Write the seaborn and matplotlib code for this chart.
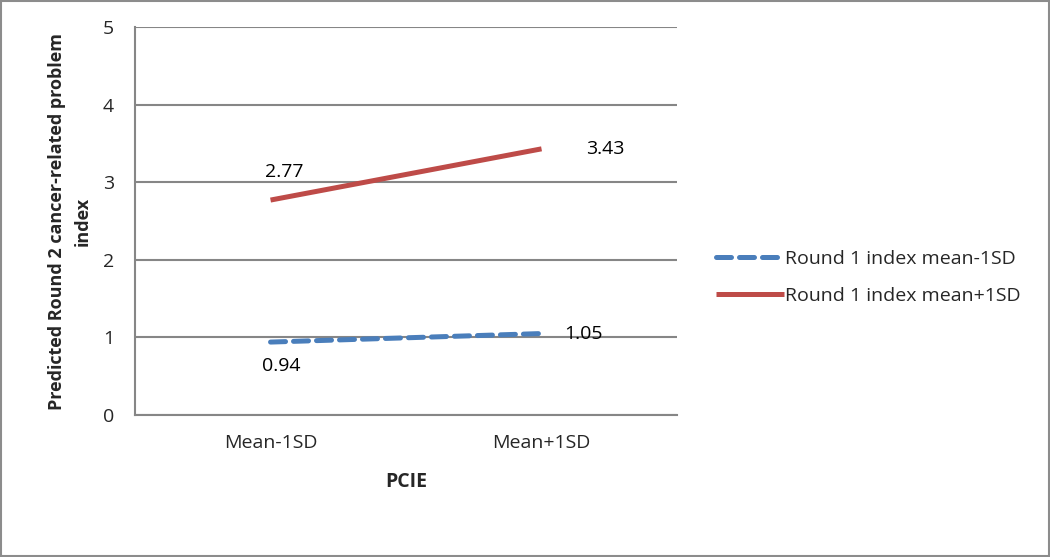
import pandas as pd
import matplotlib.pyplot as plt
import seaborn as sns
from matplotlib.patches import Rectangle

# data
pcie_levels = ["Mean-1SD", "Mean+1SD"]
series_names = ["Round 1 index mean-1SD", "Round 1 index mean+1SD"]
low_values = [0.94, 1.05]
high_values = [2.77, 3.43]

df = pd.DataFrame({
    "PCIE": pcie_levels * 2,
    "value": low_values + high_values,
    "series": [series_names[0]] * 2 + [series_names[1]] * 2,
})

sns.set_style("white")
plt.rcParams["font.family"] = ["Open Sans", "DejaVu Sans"]

grid_col = "#868686"
blue = "#4a7ebb"
red = "#be4b48"
fs = 14

fig = plt.figure(figsize=(10.5, 5.57), dpi=100)
ax = fig.add_axes([0.1286, 0.2549, 0.5162, 0.6966])

sns.lineplot(data=df, x="PCIE", y="value", hue="series", style="series",
             palette={series_names[0]: blue, series_names[1]: red},
             dashes={series_names[0]: (3.0, 1.6), series_names[1]: ""},
             linewidth=3.6, ax=ax, sort=False)
for line in ax.lines:
    line.set_dash_capstyle("round")
    line.set_solid_capstyle("butt")

ax.set_xlim(-0.5, 1.5)
ax.set_ylim(0, 5)
ax.set_yticks(range(6))
ax.set_xticks([0, 1])
ax.set_xticks([-0.5, 0.5, 1.5], minor=True)
ax.tick_params(axis="x", which="major", length=0, pad=14, labelsize=fs)
ax.tick_params(axis="x", which="minor", length=7, width=1.5, color=grid_col, direction="out")
ax.tick_params(axis="y", length=7, width=1.5, color=grid_col, direction="out", pad=8, labelsize=fs)
ax.yaxis.grid(True, color=grid_col, linewidth=1.5)
ax.set_axisbelow(True)
for side in ["top", "right"]:
    ax.spines[side].set_visible(False)
for side in ["left", "bottom"]:
    ax.spines[side].set_color(grid_col)
    ax.spines[side].set_linewidth(1.5)

ax.set_xlabel("PCIE", fontweight="bold", fontsize=fs, labelpad=14)
ax.set_ylabel("Predicted Round 2 cancer-related problem\nindex", fontweight="bold",
              fontsize=13, labelpad=8, linespacing=1.55)

# data labels
lab = dict(fontsize=fs, color="black")
ax.annotate(f"{high_values[0]:.2f}", (0, high_values[0]), xytext=(-4, 14),
            textcoords="offset points", va="bottom", ha="left", **lab)
ax.annotate(f"{high_values[1]:.2f}", (1, high_values[1]), xytext=(32, 0),
            textcoords="offset points", va="center", ha="left", **lab)
ax.annotate(f"{low_values[0]:.2f}", (0, low_values[0]), xytext=(-6, -11),
            textcoords="offset points", va="top", ha="left", **lab)
ax.annotate(f"{low_values[1]:.2f}", (1, low_values[1]), xytext=(16, 0),
            textcoords="offset points", va="center", ha="left", **lab)

leg = ax.legend(loc="center left", bbox_to_anchor=(1.04, 0.355), frameon=False,
                fontsize=fs, handlelength=3.5, handletextpad=0.05, labelspacing=1.0,
                title=None)

fig.patches.append(Rectangle((0.001, 0.002), 0.998, 0.996, transform=fig.transFigure,
                             fill=False, edgecolor="#8c8c8c", linewidth=1.5))

fig.savefig("out.png", dpi=100)
